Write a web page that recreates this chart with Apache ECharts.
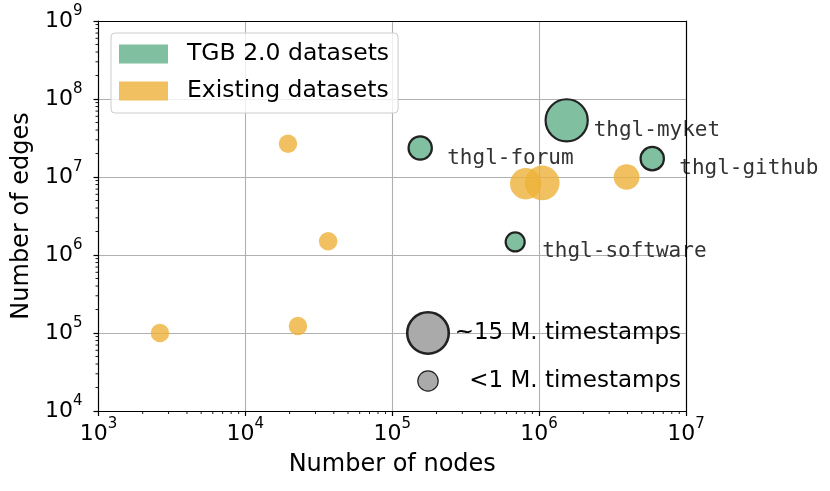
<!DOCTYPE html>
<html><head><meta charset="utf-8">
<script src="https://cdn.jsdelivr.net/npm/echarts@6/dist/echarts.min.js"></script>
<style>html,body{margin:0;padding:0;background:#fff}#c{width:830px;height:491px}</style>
</head><body><div id="c"></div>
<script>
// ---- data ----
const existingNodes = [2620, 22800, 19500, 36600, 810000, 1050000, 3940000];
const existingEdges = [100000, 123000, 26700000, 1500000, 8200000, 8400000, 10000000];
const existingTimestampsM = [0.4, 0.4, 0.4, 0.4, 6.2, 8.2, 3.3];

const tgbNames = ['thgl-software', 'thgl-forum', 'thgl-github', 'thgl-myket'];
const tgbNodes = [687000, 155000, 5890000, 1540000];
const tgbEdges = [1470000, 23500000, 17200000, 53300000];
const tgbTimestampsM = [1.3, 3.1, 3.1, 15];

const sizeLegendLabels = ['~15 M. timestamps', '<1 M. timestamps'];
const sizeLegendTimestampsM = [15, 1.5];

const xMin = 1e3, xMax = 1e7, yMin = 1e4, yMax = 1e9;
const minorMultiples = [2, 3, 4, 5, 6, 7, 8, 9];
const xDecades = [1e3, 1e4, 1e5, 1e6];
const yDecades = [1e4, 1e5, 1e6, 1e7, 1e8];

// ---- helpers ----
const FONT = 'DejaVu Sans';
function sizeOf(t) { return Math.sqrt(300 + 110 * t); }
function powLabel(v) { const e = Math.round(Math.log10(v)); return '{b|10}{s|' + e + '}'; }
const richTick = {
  b: { fontSize: 22, fontFamily: FONT, color: '#000', lineHeight: 35 },
  s: { fontSize: 15, fontFamily: FONT, color: '#000', lineHeight: 15, verticalAlign: 'top' }
};
const xMinor = [], yMinor = [];
xDecades.forEach(d => minorMultiples.forEach(m => xMinor.push([m * d, yMin])));
yDecades.forEach(d => minorMultiples.forEach(m => yMinor.push([xMin, m * d])));

const GREEN = '#80bf9f';
const ORANGE = '#edb13a';

const existingData = existingNodes.map((n, i) => [n, existingEdges[i], existingTimestampsM[i]]);
const tgbData = tgbNodes.map((n, i) => ({ value: [n, tgbEdges[i], tgbTimestampsM[i]], name: tgbNames[i] }));

const chart = echarts.init(document.getElementById('c'));

const option = {
  animation: false,
  backgroundColor: '#fff',
  grid: { left: 98.5, right: 144, top: 21, bottom: 80, show: false },
  xAxis: [{
    type: 'log', logBase: 10, min: xMin, max: xMax, interval: 1,
    name: 'Number of nodes', nameLocation: 'middle', nameGap: 42,
    nameTextStyle: { fontSize: 24, fontFamily: FONT, color: '#000' },
    axisLine: { show: true, lineStyle: { color: '#000', width: 1.2 } },
    axisTick: { show: true, inside: false, length: 5, lineStyle: { color: '#000', width: 1.2 } },
    axisLabel: { formatter: powLabel, rich: richTick, margin: 6, showMinLabel: true, showMaxLabel: true },
    splitLine: { show: true, showMinLine: false, showMaxLine: false, lineStyle: { color: '#b0b0b0', width: 1.1 } },
    minorTick: { show: false }
  }, {
    type: 'log', logBase: 10, min: xMin, max: xMax, position: 'top', z: 10,
    axisLine: { show: true, onZero: false, lineStyle: { color: '#000', width: 1.2 } },
    axisTick: { show: false }, axisLabel: { show: false }, splitLine: { show: false }
  }],
  yAxis: [{
    type: 'log', logBase: 10, min: yMin, max: yMax, interval: 1,
    name: 'Number of edges', nameLocation: 'middle', nameGap: 63,
    nameTextStyle: { fontSize: 24, fontFamily: FONT, color: '#000' },
    axisLine: { show: true, lineStyle: { color: '#000', width: 1.2 } },
    axisTick: { show: true, inside: false, length: 5, lineStyle: { color: '#000', width: 1.2 } },
    axisLabel: { formatter: powLabel, rich: richTick, margin: 16, showMinLabel: true, showMaxLabel: true },
    splitLine: { show: true, showMinLine: false, showMaxLine: false, lineStyle: { color: '#b0b0b0', width: 1.1 } }
  }, {
    type: 'log', logBase: 10, min: yMin, max: yMax, position: 'right', z: 10,
    axisLine: { show: true, onZero: false, lineStyle: { color: '#000', width: 1.2 } },
    axisTick: { show: false }, axisLabel: { show: false }, splitLine: { show: false }
  }],
  legend: {
    data: ['TGB 2.0 datasets', 'Existing datasets'],
    orient: 'vertical', left: 111, top: 33,
    padding: [9, 9, 10, 8], itemGap: 13,
    itemWidth: 49, itemHeight: 19, icon: 'rect',
    itemStyle: { borderWidth: 0 },
    backgroundColor: 'rgba(255,255,255,0.8)', borderColor: '#cccccc', borderWidth: 1, borderRadius: 4,
    textStyle: { fontSize: 23.5, fontFamily: FONT, color: '#000', padding: [0, 0, 0, 14], lineHeight: 23 }
  },
  series: [
    {
      name: 'minorX', type: 'custom', silent: true, clip: false, z: 5,
      data: xMinor,
      renderItem: (params, api) => {
        const p = api.coord([api.value(0), api.value(1)]);
        return { type: 'line', shape: { x1: p[0], y1: p[1], x2: p[0], y2: p[1] + 3 }, style: { stroke: '#000', lineWidth: 0.9 } };
      }
    },
    {
      name: 'minorY', type: 'custom', silent: true, clip: false, z: 5,
      data: yMinor,
      renderItem: (params, api) => {
        const p = api.coord([api.value(0), api.value(1)]);
        return { type: 'line', shape: { x1: p[0], y1: p[1], x2: p[0] - 3, y2: p[1] }, style: { stroke: '#000', lineWidth: 0.9 } };
      }
    },
    {
      name: 'Existing datasets', type: 'scatter', z: 3,
      data: existingData,
      symbolSize: v => sizeOf(v[2]),
      itemStyle: { color: ORANGE, opacity: 0.8, borderWidth: 0 }
    },
    {
      name: 'TGB 2.0 datasets', type: 'scatter', z: 4,
      data: tgbData,
      symbolSize: v => sizeOf(v[2]) - 2,
      itemStyle: { color: GREEN, borderColor: '#222', borderWidth: 2.2, opacity: 1 },
      label: {
        show: true, position: 'inside', align: 'left', verticalAlign: 'middle', offset: [27, 10],
        formatter: p => p.name, fontFamily: 'DejaVu Sans Mono', fontSize: 21, color: '#333'
      }
    }
  ],
  graphic: [
    { type: 'circle', shape: { cx: 428, cy: 333, r: sizeOf(sizeLegendTimestampsM[0]) / 2 - 1.3 }, style: { fill: '#aaaaaa', stroke: '#222', lineWidth: 2.6 }, z: 10 },
    { type: 'circle', shape: { cx: 428, cy: 381, r: sizeOf(sizeLegendTimestampsM[1]) / 2 - 0.6 }, style: { fill: '#aaaaaa', stroke: '#222', lineWidth: 1.2 }, z: 10 },
    { type: 'text', x: 681, y: 333, z: 10, style: { text: sizeLegendLabels[0], font: '23px "DejaVu Sans"', fill: '#000', textAlign: 'right', textVerticalAlign: 'middle', align: 'right', verticalAlign: 'middle' } },
    { type: 'text', x: 681, y: 381, z: 10, style: { text: sizeLegendLabels[1], font: '23px "DejaVu Sans"', fill: '#000', textAlign: 'right', textVerticalAlign: 'middle', align: 'right', verticalAlign: 'middle' } }
  ]
};
chart.setOption(option);
</script>
</body></html>
